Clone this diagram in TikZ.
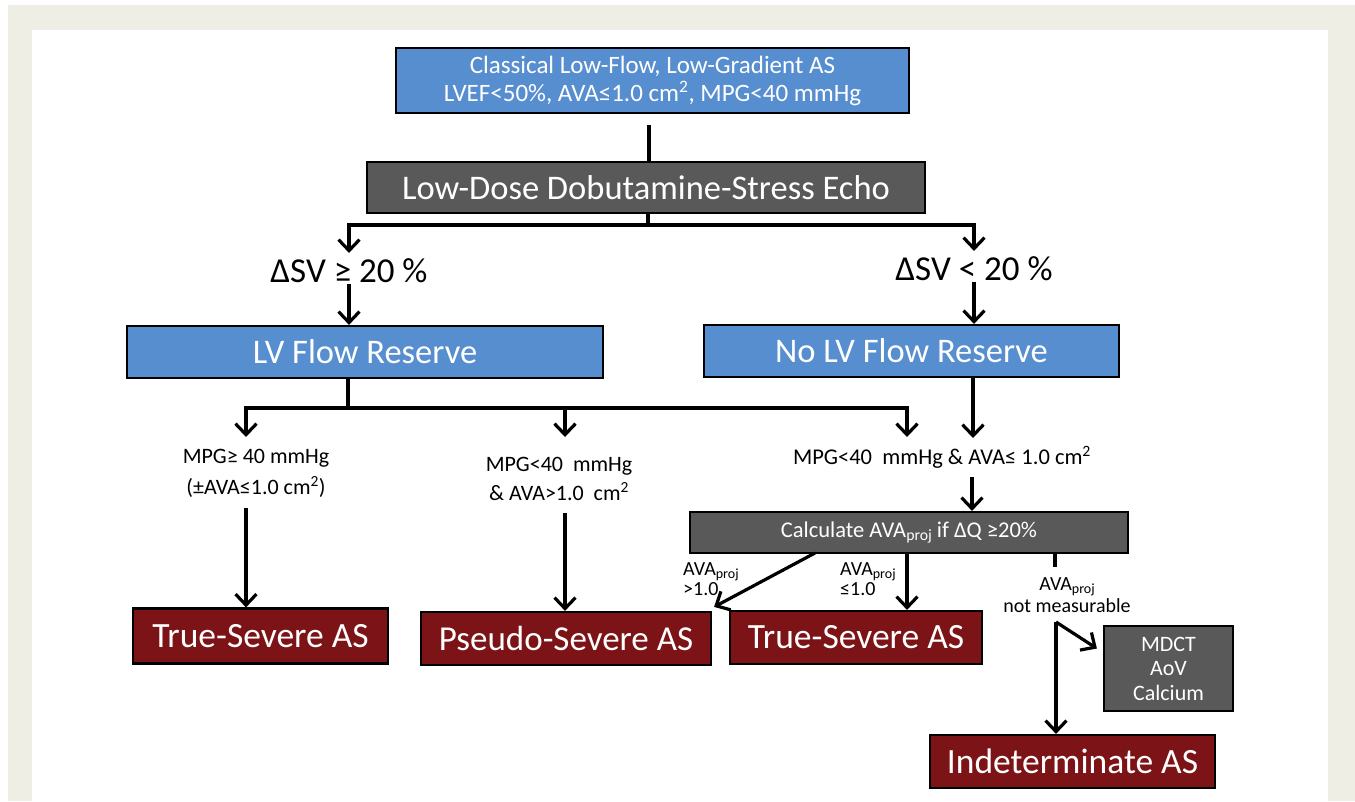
\documentclass[tikz,border=0pt]{standalone}
\usepackage{fontspec}
\setmainfont{Carlito}
\usetikzlibrary{arrows.meta}
\definecolor{bgbeige}{RGB}{239,238,228}
\definecolor{boxblue}{RGB}{87,142,207}
\definecolor{boxgray}{RGB}{89,89,89}
\definecolor{boxred}{RGB}{124,19,22}
\newcommand\fsz[2]{\fontsize{#1}{#2}\selectfont}
\newcommand\sbj[1]{\raisebox{-0.35ex}{\fontsize{0.7\dimexpr\fontdimen6\font\relax}{1em}\selectfont #1}}
\begin{document}
\begin{tikzpicture}[x=1pt,y=-1pt,
  boxbase/.style={draw=black, line width=2.2pt, rectangle, inner sep=0pt, text=white, align=center},
  bluebox/.style={boxbase, fill=boxblue},
  graybox/.style={boxbase, fill=boxgray},
  redbox/.style={boxbase, fill=boxred},
  lbl/.style={inner sep=0pt, text=black},
  conn/.style={line width=3.2pt, draw=black},
  arr/.style={conn, -{Straight Barb[length=11pt,width=21pt,line width=3.2pt]}}
]
\fill[white] (0,0) rectangle (1355,801);
\fill[bgbeige] (8,5) rectangle (1355,801);
\fill[white] (32,30) rectangle (1328,801);
\useasboundingbox (0,0) rectangle (1355,801);

% boxes
\node[bluebox, minimum width=513, minimum height=65, font=\fsz{25}{28}] (top) at (652.5,80.5)
  {Classical Low-Flow, Low-Gradient AS\\LVEF<50\%, AVA≤1.0 cm\textsuperscript{2}, MPG<40 mmHg};
\node[graybox, minimum width=558, minimum height=51, font=\fsz{34.5}{36}] (dobut) at (646,187.5)
  {Low-Dose Dobutamine-Stress Echo};
\node[bluebox, minimum width=476, minimum height=52, font=\fsz{34.5}{36}] (lvfr) at (365,352)
  {LV Flow Reserve};
\node[bluebox, minimum width=415, minimum height=52, font=\fsz{34.5}{36}] (nolv) at (911.5,351)
  {No LV Flow Reserve};
\node[graybox, minimum width=438, minimum height=41, font=\fsz{22.5}{24}] (calc) at (909,532.5)
  {Calculate AVA\sbj{proj} if ΔQ ≥20\%};
\node[redbox, minimum width=255, minimum height=55, font=\fsz{35.5}{36}] (ts1) at (260.5,636)
  {True-Severe AS};
\node[redbox, minimum width=290, minimum height=53, font=\fsz{35}{36}] (pseudo) at (566,638.5)
  {Pseudo-Severe AS};
\node[redbox, minimum width=252, minimum height=53, font=\fsz{35.5}{36}] (ts2) at (856,637.5)
  {True-Severe AS};
\node[graybox, minimum width=129, minimum height=85, font=\fsz{22}{24.5}] (mdct) at (1168.5,668.5)
  {MDCT\\AoV\\Calcium};
\node[redbox, minimum width=285, minimum height=53, font=\fsz{35.5}{36}] (indet) at (1072.5,761.5)
  {Indeterminate AS};

% labels (base anchor = baseline of the last line)
\node[lbl, anchor=base, font=\fsz{35}{36}] (dsv1) at (349,282) {ΔSV ≥ 20 \%};
\node[lbl, anchor=base, font=\fsz{35}{36}] (dsv2) at (974,280) {ΔSV < 20 \%};
\node[lbl, anchor=base, align=center, font=\fsz{22}{31}] (mpg1) at (256,494)
  {MPG≥ 40 mmHg\\(±AVA≤1.0 cm\textsuperscript{2})};
\node[lbl, anchor=base, align=center, font=\fsz{22}{29}] (mpg2) at (559,500)
  {MPG<40~~mmHg\\\& AVA>1.0~~cm\textsuperscript{2}};
\node[lbl, anchor=base, font=\fsz{22.5}{26}] (mpg3) at (942,464)
  {MPG<40~~mmHg \& AVA≤ 1.0 cm\textsuperscript{2}};
\node[lbl, anchor=base west, align=left, font=\fsz{20}{20}] (l1) at (683,595)
  {AVA\sbj{proj}\\>1.0};
\node[lbl, anchor=base west, align=left, font=\fsz{20}{20}] (l2) at (840,595)
  {AVA\sbj{proj}\\≤1.0};
\node[lbl, anchor=base, align=center, font=\fsz{20}{22}] (l3) at (1067,612)
  {AVA\sbj{proj}\\not measurable};

% coordinates
\coordinate (c0) at (649,125);
\coordinate (s1) at (648,225);
\coordinate (b1) at (348,408);
\coordinate (t1) at (246,437);
\coordinate (t2) at (565,437);
\coordinate (t3) at (907,437);
\coordinate (t4) at (973,438);
\coordinate (u1) at (246,508);
\coordinate (u2) at (565,513);
\coordinate (u3) at (972,477);
\coordinate (d1) at (815,553);
\coordinate (v2) at (907,553);
\coordinate (v3) at (1055,553);
\coordinate (w0) at (1056,622);

% connectors
\draw[conn] (c0) -- (c0 |- dobut.north);
\draw[conn] (dobut.south -| s1) -- (s1);
\draw[arr] (s1) -| ([yshift=5pt]dsv1.north);
\draw[arr] (s1) -| ([yshift=5pt]dsv2.north);
\draw[arr] ([yshift=-2pt]dsv1.south) -- (dsv1.south |- lvfr.north);
\draw[arr] ([yshift=-2pt]dsv2.south) -- (dsv2.south |- nolv.north);
\draw[conn] (lvfr.south -| b1) -- (b1);
\draw[arr] (b1) -| (t1);
\draw[arr] (b1) -| (t3);
\draw[arr] (t2 |- b1) -- (t2);
\draw[arr] (nolv.south -| t4) -- (t4);
\draw[arr] (u1) -- (u1 |- ts1.north);
\draw[arr] (u2) -- (u2 |- pseudo.north);
\draw[arr] (u3) -- (u3 |- calc.north);
\draw[arr] (d1) -- ([xshift=2pt,yshift=4pt]pseudo.north east);
\draw[arr] (v2) -- (v2 |- ts2.north);
\draw[conn] (v3) -- ++(0,14);
\draw[arr] (w0) -- (w0 |- indet.north);
\draw[arr] (w0) -- ([xshift=-6pt,yshift=20pt]mdct.west);
\end{tikzpicture}
\end{document}
